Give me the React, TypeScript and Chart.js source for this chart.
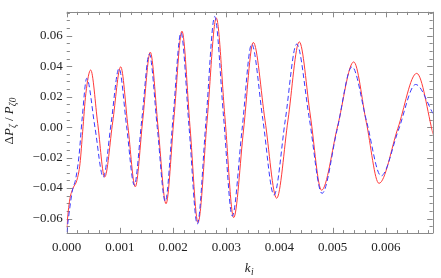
import { useEffect, useRef } from 'react';
import { Chart, registerables } from 'chart.js';

Chart.register(...registerables);

// Red solid curve: k_i and ΔP/P
const redK = [
  0, 0.00003, 0.00006, 0.00012, 0.00019, 0.00025, 0.0003, 0.00036, 0.000451,
  0.000583, 0.000714, 0.000865, 0.001015, 0.001152, 0.001289, 0.00143, 0.001571,
  0.001719, 0.001867, 0.002017, 0.002167, 0.002318, 0.002468, 0.00264, 0.002812,
  0.002975, 0.003139, 0.003324, 0.003508, 0.003728, 0.003947, 0.00416, 0.004372,
  0.004581, 0.00479, 0.005093, 0.005395, 0.005633, 0.00587, 0.006225, 0.006579, 0.00689,
];
const redDelta = [
  -0.066, -0.055, -0.047, -0.04, -0.035, -0.024, -0.003, 0.022, 0.0375,
  0.0024, -0.0328, 0.0034, 0.0396, 0.0002, -0.0392, 0.005, 0.0492,
  -0.0006, -0.0503, 0.0064, 0.063, 0.0002, -0.0626, 0.0045, 0.0716,
  0.0061, -0.0594, -0.0019, 0.0556, 0.0045, -0.0467, 0.0047, 0.056,
  0.0073, -0.0414, 0.0007, 0.0428, 0.003, -0.0369, -0.0008, 0.0353, -0.005,
];

// Blue dashed curve
const blueK = [
  0, 0.000043, 0.000105, 0.000169, 0.000231, 0.000293, 0.000376,
  0.000532, 0.000688, 0.000836, 0.000983, 0.001127, 0.001271, 0.001412, 0.001553,
  0.001703, 0.001853, 0.002, 0.002148, 0.002302, 0.002455, 0.002619, 0.002782,
  0.002948, 0.003113, 0.003295, 0.003477, 0.003687, 0.003897, 0.00411, 0.004323,
  0.004561, 0.004799, 0.005081, 0.005363, 0.005637, 0.00591, 0.006235, 0.00656, 0.00689,
];
const blueDelta = [
  -0.069, -0.057, -0.042, -0.034, -0.019, 0.0066, 0.032,
  -0.0004, -0.0328, 0.0029, 0.0385, 0.0002, -0.0381, 0.005, 0.0481,
  -0.0004, -0.0488, 0.0066, 0.062, -0.0009, -0.0637, 0.0045, 0.0726,
  0.0071, -0.0584, -0.002, 0.0545, 0.005, -0.0446, 0.005, 0.0545,
  0.0055, -0.0435, -0.002, 0.0396, 0.0038, -0.032, -0.002, 0.028, 0.0087,
];

const xTickValues = [0, 0.001, 0.002, 0.003, 0.004, 0.005, 0.006];
const yTickValues = [-0.06, -0.04, -0.02, 0, 0.02, 0.04, 0.06];

const X_MIN = 0;
const X_MAX = 0.00688;
const Y_MIN = -0.0697;
const Y_MAX = 0.0757;
const X_MINOR_STEP = 0.0002;
const Y_MINOR_STEP = 0.005;

const SERIF = "'Liberation Serif', 'DejaVu Serif', serif";
const FRAME = '#8a8a8a';

const framePlugin = {
  id: 'mmaFrame',
  beforeDatasetsDraw(chart: any) {
    const { ctx, chartArea } = chart;
    const { left, right, top, bottom } = chartArea;
    const xs = chart.scales.x;
    const ys = chart.scales.y;
    ctx.save();
    ctx.strokeStyle = FRAME;
    ctx.lineWidth = 1;
    ctx.beginPath();
    ctx.moveTo(left, Math.round(top) + 0.5);
    ctx.lineTo(right + 0.5, Math.round(top) + 0.5);
    ctx.moveTo(Math.round(right) + 0.5, top);
    ctx.lineTo(Math.round(right) + 0.5, bottom);
    ctx.moveTo(left, Math.round(bottom) + 0.5);
    ctx.lineTo(right + 0.5, Math.round(bottom) + 0.5);
    ctx.stroke();
    ctx.beginPath();
    for (let i = 0; i * X_MINOR_STEP <= X_MAX + 1e-12; i++) {
      const v = i * X_MINOR_STEP;
      const major = i % 5 === 0;
      const len = major ? 5.5 : 3.2;
      const px = Math.round(xs.getPixelForValue(v)) + 0.5;
      ctx.moveTo(px, bottom);
      ctx.lineTo(px, bottom - len);
      ctx.moveTo(px, top);
      ctx.lineTo(px, top + len);
    }
    for (let i = -14; i <= 15; i++) {
      const v = i * Y_MINOR_STEP;
      if (v < Y_MIN || v > Y_MAX) continue;
      const major = i % 4 === 0 && Math.abs(v) <= 0.061;
      const len = major ? 5.5 : 3.2;
      const py = Math.round(ys.getPixelForValue(v)) + 0.5;
      ctx.moveTo(left, py);
      ctx.lineTo(left + len, py);
      ctx.moveTo(right, py);
      ctx.lineTo(right - len, py);
    }
    ctx.stroke();
    ctx.restore();
  },
  afterDraw(chart: any) {
    const { ctx } = chart;
    ctx.save();
    ctx.fillStyle = '#222';
    ctx.textBaseline = 'alphabetic';
    const big = `italic 13px ${SERIF}`;
    const bigUp = `13px ${SERIF}`;
    const small = `italic 9.5px ${SERIF}`;
    const parts: [string, string, number][] = [
      ['Δ', bigUp, 0],
      ['P', big, 0],
      ['ζ', small, 3],
      [' / ', bigUp, 0],
      ['P', big, 0],
      ['ζ0', small, 3],
    ];
    let total = 0;
    for (const [t, f] of parts) {
      ctx.font = f;
      total += ctx.measureText(t).width;
    }
    ctx.translate(13, 121);
    ctx.rotate(-Math.PI / 2);
    let cx = -total / 2;
    for (const [t, f, dy] of parts) {
      ctx.font = f;
      ctx.fillText(t, cx, dy);
      cx += ctx.measureText(t).width;
    }
    ctx.restore();
    ctx.save();
    ctx.fillStyle = '#222';
    ctx.font = big;
    const kw = ctx.measureText('k').width;
    ctx.font = small;
    const iw = ctx.measureText('i').width;
    const sx = 249 - (kw + iw) / 2;
    ctx.font = big;
    ctx.fillText('k', sx, 272);
    ctx.font = small;
    ctx.fillText('i', sx + kw + 0.5, 275);
    ctx.restore();
  },
};

export default function App() {
  const ref = useRef<HTMLCanvasElement | null>(null);
  useEffect(() => {
    document.body.style.margin = '0';
    const canvas = ref.current;
    if (!canvas) return;
    const chart = new Chart(canvas, {
      type: 'line',
      data: {
        datasets: [
          {
            label: 'blue',
            data: blueK.map((k, i) => ({ x: k, y: blueDelta[i] })),
            borderColor: '#3a3aff',
            borderWidth: 1,
            borderDash: [5, 3],
            pointRadius: 0,
            fill: false,
            cubicInterpolationMode: 'monotone',
            order: 0,
          },
          {
            label: 'red',
            data: redK.map((k, i) => ({ x: k, y: redDelta[i] })),
            borderColor: '#ff3a3a',
            borderWidth: 1,
            pointRadius: 0,
            fill: false,
            cubicInterpolationMode: 'monotone',
            order: 1,
          },
        ],
      },
      options: {
        responsive: false,
        animation: false,
        layout: { padding: { left: 0, right: 8.3, top: 6, bottom: 0 } },
        plugins: { legend: { display: false }, tooltip: { enabled: false } },
        scales: {
          x: {
            type: 'linear',
            min: X_MIN,
            max: X_MAX,
            afterBuildTicks: (s: any) => {
              s.ticks = xTickValues.map((v) => ({ value: v }));
            },
            afterFit: (s: any) => {
              s.height = 44.7;
            },
            grid: { display: false, drawTicks: false, tickLength: 0 },
            border: { display: false },
            ticks: {
              autoSkip: false,
              maxRotation: 0,
              padding: 6,
              color: '#222',
              font: { family: SERIF, size: 13 },
              callback: (v: any) => Number(v).toFixed(3),
            },
          },
          y: {
            type: 'linear',
            min: Y_MIN,
            max: Y_MAX,
            afterBuildTicks: (s: any) => {
              s.ticks = yTickValues.map((v) => ({ value: v }));
            },
            afterFit: (s: any) => {
              s.width = 66.7;
            },
            grid: { display: false, drawTicks: false, tickLength: 0 },
            border: { display: false },
            ticks: {
              autoSkip: false,
              padding: 4,
              color: '#222',
              font: { family: SERIF, size: 13 },
              callback: (v: any) => {
                const n = Number(v);
                if (Math.abs(n) < 1e-9) return '0.00';
                return n < 0 ? '\u2212' + Math.abs(n).toFixed(2) : n.toFixed(2);
              },
            },
          },
        },
      },
      plugins: [framePlugin],
    } as any);
    return () => chart.destroy();
  }, []);
  return (
    <div style={{ width: 441, height: 278 }}>
      <canvas ref={ref} width={441} height={278} style={{ display: 'block' }} />
    </div>
  );
}
